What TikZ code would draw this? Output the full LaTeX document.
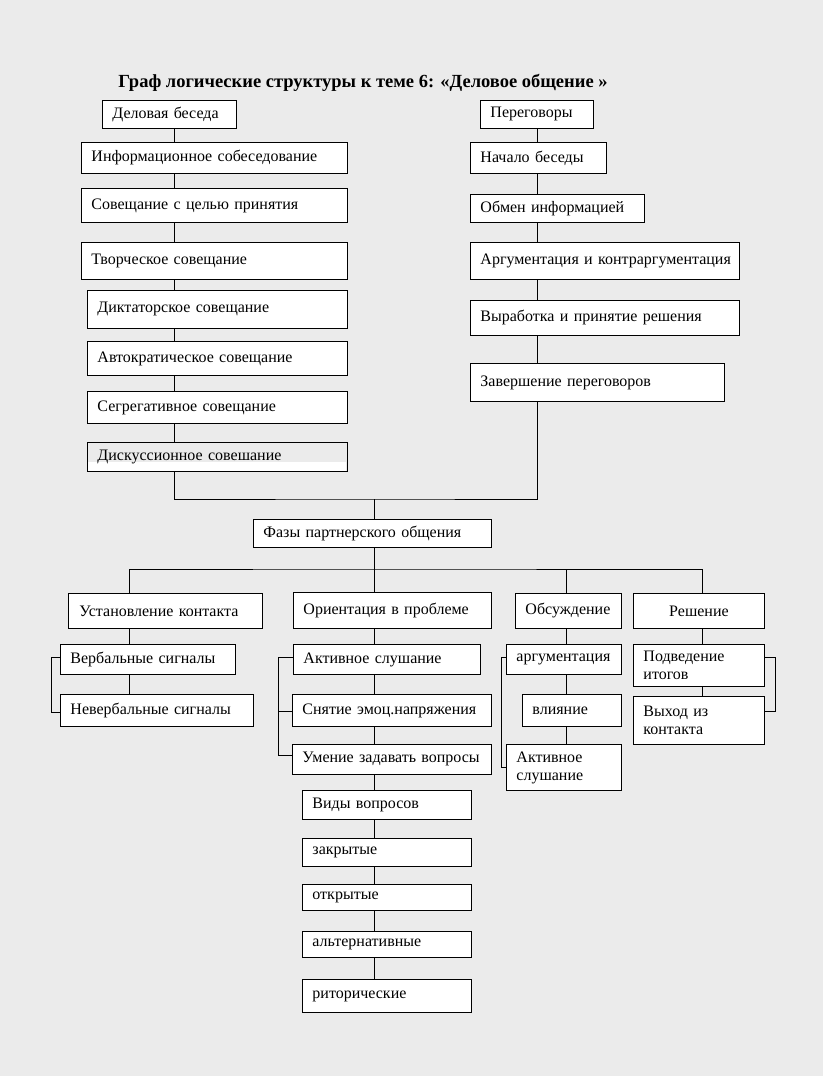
\documentclass[tikz,border=0pt]{standalone}
\usepackage{fontspec}
\setmainfont{Liberation Serif}
\definecolor{bg}{RGB}{235,235,235}
\tikzset{
  bx/.style={draw=black, line width=0.9pt, fill=white, anchor=north west, inner xsep=10pt, inner ysep=0pt, align=left, font=\fontsize{16}{18}\selectfont, text=black},
  ln/.style={draw=black, line width=0.9pt}
}
\newcommand\mybox[7][]{%
  \pgfmathsetmacro\tw{#5-20}%
  \node[bx,text width=\tw pt,minimum height=#6pt,#1] (#2) at (#3,#4) {#7};}
\begin{document}
\begin{tikzpicture}[x=1pt,y=-1pt]
\useasboundingbox (0,0) rectangle (823,1076);
\fill[bg] (0,0) rectangle (823,1076);
\node[font=\bfseries\fontsize{18.5}{20}\selectfont, text=black] (title) at (363,83) {Граф логические структуры к теме 6: «Деловое общение »};
% left column
\mybox{dbs}{102}{100}{134}{28}{Деловая беседа}
\mybox{inf}{81}{142}{266}{31}{Информационное собеседование}
\mybox{sov}{81}{188}{266}{34}{Совещание с целью принятия}
\mybox{tvo}{81}{242}{266}{37}{Творческое совещание}
\mybox{dik}{87}{290}{260}{38}{Диктаторское совещание}
\mybox{avt}{87}{341}{260}{34}{Автократическое совещание}
\mybox{seg}{87}{391}{260}{32}{Сегрегативное совещание}
\fill[white] (88,462) rectangle (346,470.5);
\mybox[fill=none]{dsk}{87}{442}{260}{29}{Дискуссионное совешание}
% right column
\mybox{per}{480}{100}{113}{28}{Переговоры}
\mybox{nach}{470}{142}{136}{31}{Начало беседы}
\mybox{obm}{470}{194}{174}{28}{Обмен информацией}
\mybox{argk}{470}{242}{269}{37}{\mbox{Аргументация и контраргументация}}
\mybox{vyr}{470}{300}{269}{35}{Выработка и принятие решения}
\mybox{zav}{470}{363}{254}{38}{Завершение переговоров}
% center
\mybox{faz}{253}{519}{238}{28}{Фазы партнерского общения}
% level 2
\mybox[inner xsep=11pt]{ust}{68}{593}{192}{35}{Установление контакта}
\mybox{ori}{293}{592}{198}{36}{Ориентация в проблеме}
\mybox{obs}{515}{593}{106}{35}{Обсуждение}
\mybox[align=center]{resh}{633}{593}{131}{35}{Решение}
% level 3
\mybox{ver}{60}{644}{175}{30}{Вербальные сигналы}
\mybox{nev}{60}{694}{193}{32}{Невербальные сигналы}
\mybox{akt}{293}{644}{187}{30}{Активное слушание}
\mybox{snt}{292}{694}{199}{32}{Снятие эмоц.напряжения}
\mybox{umn}{292}{744}{199}{30}{Умение задавать вопросы}
\mybox{vid}{302}{790}{169}{29}{Виды вопросов}
\mybox{zak}{302}{838}{169}{28}{закрытые}
\mybox{otk}{302}{884}{169}{26}{открытые}
\mybox{alt}{302}{931}{169}{26}{альтернативные}
\mybox{rit}{302}{979}{169}{33}{риторические}
\mybox{arg}{506}{644}{115}{30}{аргументация}
\mybox{vli}{522}{694}{99}{32}{влияние}
\mybox{aks}{506}{744}{115}{46}{Активное\\слушание}
\mybox{pod}{633}{644}{131}{42}{Подведение\\итогов}
\mybox{vyh}{633}{696}{131}{48}{Выход из\\контакта}
% spine coordinates
\coordinate (L) at (174,0);
\coordinate (R) at (537,0);
\coordinate (M) at (374,0);
\coordinate (cA) at (129,0);
\coordinate (cC) at (566,0);
\coordinate (cD) at (702,0);
\coordinate (j) at (374,499);
\coordinate (k) at (374,569);
\foreach \a/\b in {dbs/inf,inf/sov,sov/tvo,tvo/dik,dik/avt,avt/seg,seg/dsk}
  \draw[ln] (\a.south -| L) -- (\b.north -| L);
\foreach \a/\b in {per/nach,nach/obm,obm/argk,argk/vyr,vyr/zav}
  \draw[ln] (\a.south -| R) -- (\b.north -| R);
\draw[ln] (dsk.south -| L) |- (j) -| (zav.south -| R);
\draw[ln] (j) -- (faz.north -| j);
\draw[ln] (faz.south -| k) -- (ori.north -| k);
\draw[ln] (ust.north -| cA) |- (k) -| (resh.north -| cD);
\draw[ln] (obs.north -| cC) -- (cC |- k);
\foreach \a/\b in {ust/ver,ver/nev}
  \draw[ln] (\a.south -| cA) -- (\b.north -| cA);
\foreach \a/\b in {akt/snt,snt/umn,umn/vid,vid/zak,zak/otk,otk/alt,alt/rit}
  \draw[ln] (\a.south -| M) -- (\b.north -| M);
\draw[ln] (ori.south -| M) -- (akt.north -| M);
\foreach \a/\b in {obs/arg,arg/vli,vli/aks}
  \draw[ln] (\a.south -| cC) -- (\b.north -| cC);
\foreach \a/\b in {resh/pod,pod/vyh}
  \draw[ln] (\a.south -| cD) -- (\b.north -| cD);
% brackets
\draw[ln] ([yshift=2pt]ver.west) -- ++(-9,0) |- ([yshift=-2pt]nev.west);
\draw[ln] ([yshift=2pt]akt.west) -- ++(-15,0) |- ([yshift=4pt]umn.west);
\draw[ln] ([yshift=-1pt]snt.west) -- ++(-14,0);
\draw[ln] ([yshift=2pt]arg.west) -- ++(-5,0) |- (aks.west);
\draw[ln] ([yshift=8pt]pod.east) -- ++(11,0) |- ([yshift=9pt]vyh.east);
\end{tikzpicture}
\end{document}
